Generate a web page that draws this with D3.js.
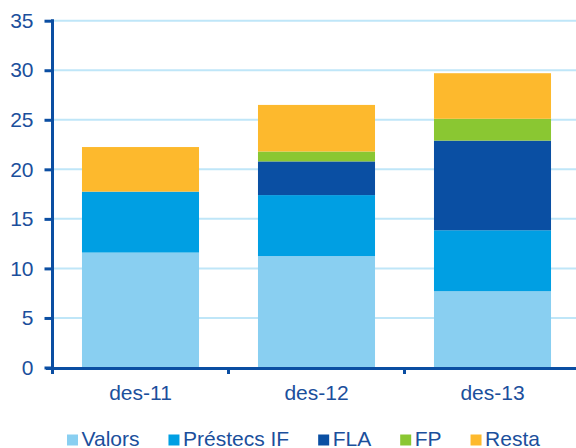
<!DOCTYPE html>
<html>
<head>
<meta charset="utf-8">
<script src="https://cdn.jsdelivr.net/npm/d3@7"></script>
<style>
	body { margin: 0; background: #fff; }
	svg { display: block; font-family: Arial, 'Liberation Sans', sans-serif; }
</style>
</head>
<body>
<div id="chart"></div>
<script>
const categories = ['des-11', 'des-12', 'des-13'];
const seriesNames = ['Valors', 'Préstecs IF', 'FLA', 'FP', 'Resta'];
const valors = [11.6, 11.25, 7.7];
const prestecs = [6.15, 6.15, 6.15];
const fla = [0, 3.4, 9.05];
const fp = [0, 1.0, 2.2];
const resta = [4.5, 4.7, 4.6];
const yTicks = [0, 5, 10, 15, 20, 25, 30, 35];
const colors = ['#89CFF1', '#009FE3', '#0A4FA3', '#8AC732', '#FDB92D'];

const width = 576;
const height = 448;
const textColor = '#1B4F9C';
const axisColor = '#0B4EA2';
const fontSize = '21px';

const rows = categories.map((c, i) => ({
	cat: c,
	'Valors': valors[i],
	'Préstecs IF': prestecs[i],
	'FLA': fla[i],
	'FP': fp[i],
	'Resta': resta[i],
}));

const svg = d3.select('#chart').append('svg')
	.attr('width', width)
	.attr('height', height);

const x = d3.scaleBand()
	.domain(categories)
	.range([52.5, 580.5])
	.paddingInner(0.335)
	.paddingOuter(0.1675);

const y = d3.scaleLinear()
	.domain([0, 35])
	.range([367.5, 20.7]);

// gridlines
svg.append('g')
	.selectAll('line')
	.data(yTicks.filter((d) => d > 0))
	.join('line')
	.attr('x1', 52)
	.attr('x2', width)
	.attr('y1', (d) => y(d))
	.attr('y2', (d) => y(d))
	.attr('stroke', '#BFE6F8')
	.attr('stroke-width', 2);

// stacked bars
const stack = d3.stack().keys(seriesNames);
const layers = stack(rows);

svg.append('g')
	.selectAll('g')
	.data(layers)
	.join('g')
	.attr('fill', (d, i) => colors[i])
	.selectAll('rect')
	.data((d) => d.filter((s) => s[1] - s[0] > 0))
	.join('rect')
	.attr('x', (d) => x(d.data.cat))
	.attr('width', x.bandwidth())
	.attr('y', (d) => y(d[1]))
	.attr('height', (d) => y(d[0]) - y(d[1]));

// y axis
const yAxis = d3.axisLeft(y)
	.tickValues(yTicks)
	.tickSize(8)
	.tickPadding(11)
	.tickFormat(d3.format('d'));

const gy = svg.append('g')
	.attr('transform', 'translate(52.5,0)')
	.call(yAxis);
gy.select('.domain').remove();
gy.selectAll('.tick line').attr('stroke', axisColor).attr('stroke-width', 3);
gy.selectAll('.tick text')
	.attr('fill', textColor)
	.style('font-size', fontSize);

svg.append('line')
	.attr('x1', 52.5).attr('x2', 52.5)
	.attr('y1', y(35) - 1.5).attr('y2', 374)
	.attr('stroke', axisColor)
	.attr('stroke-width', 3);

// x axis
svg.append('line')
	.attr('x1', 46).attr('x2', width)
	.attr('y1', y(0) + 1).attr('y2', y(0) + 1)
	.attr('stroke', axisColor)
	.attr('stroke-width', 3);

const gap = x.step() * x.paddingInner() / 2;
const bounds = categories.map((c) => x(c) - gap).concat([x(categories[2]) + x.bandwidth() + gap]);
svg.append('g')
	.selectAll('line')
	.data(bounds.slice(1))
	.join('line')
	.attr('x1', (d) => d).attr('x2', (d) => d)
	.attr('y1', y(0)).attr('y2', 374)
	.attr('stroke', axisColor)
	.attr('stroke-width', 3);

svg.append('g')
	.selectAll('text')
	.data(categories)
	.join('text')
	.attr('x', (d) => x(d) + x.bandwidth() / 2)
	.attr('y', 400)
	.attr('text-anchor', 'middle')
	.attr('fill', textColor)
	.style('font-size', fontSize)
	.text((d) => d);

// legend
const legend = svg.append('g');
let lx = 67;
seriesNames.forEach((name, i) => {
	legend.append('rect')
		.attr('x', lx).attr('y', 434.5)
		.attr('width', 11).attr('height', 11)
		.attr('fill', colors[i]);
	const t = legend.append('text')
		.attr('x', lx + 14.5)
		.attr('y', 445.5)
		.attr('fill', textColor)
		.style('font-size', fontSize)
		.text(name);
	lx += 14.5 + t.node().getComputedTextLength() + 29;
});
</script>
</body>
</html>
